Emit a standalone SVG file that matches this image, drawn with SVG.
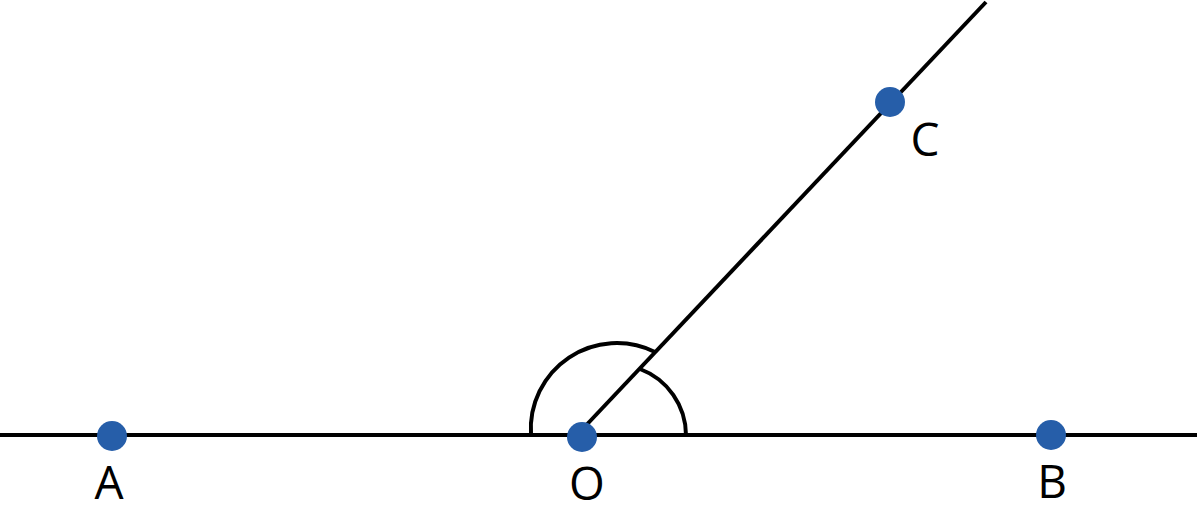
<svg xmlns="http://www.w3.org/2000/svg" width="1198" height="515" viewBox="0 0 1198 515">
<style>
.ln{stroke:#000;stroke-width:4;fill:none}
.dot{fill:#265EA9}
.lbl{font-family:"Open Sans","Liberation Sans",sans-serif;font-size:46px;fill:#000;text-anchor:middle}
</style>
<rect width="1198" height="515" fill="#fff"/>
<g id="connectors">
<line class="ln" x1="0" y1="435" x2="1197" y2="435"/>
<line class="ln" x1="576" y1="436" x2="986" y2="2"/>
<path class="ln" d="M531 435 A86 86 0 0 1 655 352"/>
<path class="ln" d="M640 369 A71 71 0 0 1 686 435"/>
</g>
<g id="A"><circle class="dot" cx="112" cy="436" r="15"/><text class="lbl" x="109" y="499">A</text></g>
<g id="O"><circle class="dot" cx="582" cy="437" r="15"/><text class="lbl" x="587" y="500">O</text></g>
<g id="B"><circle class="dot" cx="1051" cy="435" r="15"/><text class="lbl" x="1052" y="498">B</text></g>
<g id="C"><circle class="dot" cx="890" cy="102" r="15"/><text class="lbl" x="925" y="156">C</text></g>
</svg>
